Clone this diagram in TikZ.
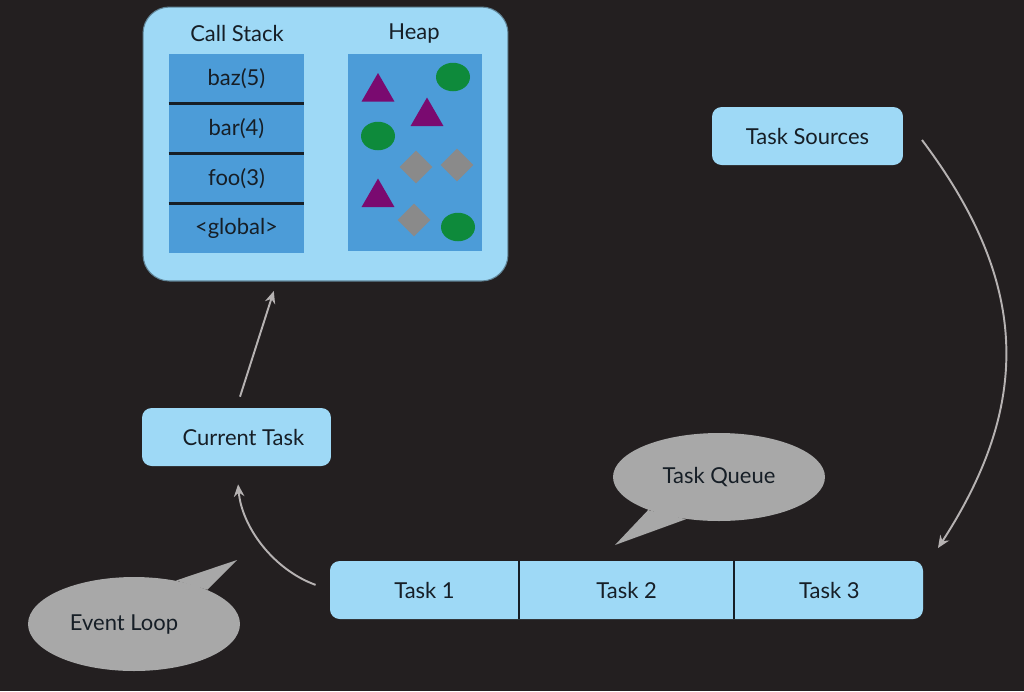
\documentclass[tikz,border=0pt]{standalone}
\usepackage{fontspec}
\setmainfont{Lato}
\usetikzlibrary{positioning,shapes.geometric,arrows.meta}
\definecolor{bg}{RGB}{35,31,32}
\definecolor{boxblue}{RGB}{158,217,246}
\definecolor{slotblue}{RGB}{76,156,216}
\definecolor{ink}{RGB}{22,30,38}
\definecolor{bubblegray}{RGB}{168,168,168}
\definecolor{arrowgray}{RGB}{182,178,178}
\definecolor{objpurple}{RGB}{122,10,112}
\definecolor{objgreen}{RGB}{14,138,59}
\definecolor{objgray}{RGB}{138,138,138}
\tikzset{
  txt/.style={text=ink, font=\fontsize{12.5}{15}\selectfont},
  box/.style={txt, fill=boxblue, rounded corners=5.5pt, inner sep=0pt, minimum height=1.16cm},
  slot/.style={txt, fill=slotblue, inner sep=0pt, minimum width=2.7cm, minimum height=0.985cm},
  sepline/.style={draw=ink, line width=1.3pt},
  bubble/.style={txt, ellipse, fill=bubblegray, inner sep=0pt, minimum width=4.24cm},
  flow/.style={draw=arrowgray, line width=1.1pt, -{Stealth[length=7pt, width=6pt]}},
  tri/.style={regular polygon, regular polygon sides=3, fill=objpurple, inner sep=0pt, minimum size=0.76cm},
  blob/.style={ellipse, fill=objgreen, inner sep=0pt, minimum width=0.68cm, minimum height=0.57cm},
  gem/.style={diamond, fill=objgray, inner sep=0pt, minimum width=0.66cm, minimum height=0.66cm}
}
\begin{document}
\begin{tikzpicture}[x=0.02cm, y=-0.02cm]
  \fill [bg] (0,0) rectangle (1024,691);
  \useasboundingbox (0,0) rectangle (1024,691);
  % runtime: stack and heap
  \node [box, draw=boxblue!55!ink, line width=0.6pt, rounded corners=15pt,
         minimum width=7.3cm, minimum height=5.48cm] (mem) at (325.5,144) {};
  \node [txt] (stacklabel) at (237,33) {Call Stack};
  \node [txt] (heaplabel) at (414,34) {Heap};
  \node [slot] (baz) at (236.5,78.5) {baz(5)};
  \node [slot, below=0pt of baz] (bar) {bar(4)};
  \node [slot, below=0pt of bar] (foo) {foo(3)};
  \node [slot, below=0pt of foo] (glob) {<global>};
  \foreach \r in {baz,bar,foo}
    \draw [sepline] (\r.south west) -- (\r.south east);
  \node [slot, minimum width=2.68cm, minimum height=3.94cm] (heap) at (415,152.5) {};
  \foreach \n/\x/\y in {1/378/92, 2/427/116.5, 3/378/197.5}
    \node [tri] (tri\n) at (\x,\y) {};
  \foreach \n/\x/\y in {1/453/77, 2/378/136, 3/458/227}
    \node [blob] (blob\n) at (\x,\y) {};
  \foreach \n/\x/\y in {1/416/167, 2/457/165, 3/414/220}
    \node [gem] (gem\n) at (\x,\y) {};
  % tasks
  \node [box, minimum width=3.82cm] (src) at (807.5,136) {Task Sources};
  \node [box, minimum width=3.78cm] (cur) at (236.5,437) {\hspace*{0.28cm}Current Task};
  \fill [boxblue, rounded corners=5.5pt] (330,561) rectangle (923,619);
  \node [txt, minimum width=3.78cm, minimum height=1.16cm] (t1) at (424.5,590) {Task 1};
  \node [txt, minimum width=4.28cm, minimum height=1.16cm, right=0pt of t1] (t2) {Task 2};
  \node [txt, minimum width=3.8cm, minimum height=1.16cm, right=0pt of t2] (t3) {Task 3};
  \draw [sepline, line width=1pt] (t1.north east) -- (t1.south east);
  \draw [sepline, line width=1pt] (t2.north east) -- (t2.south east);
  % speech bubbles
  \node [bubble, minimum height=1.76cm] (tqb) at (719,477) {Task Queue};
  \coordinate (tqtip) at (615,545);
  \fill [bubblegray] (tqb.205) -- (tqtip) -- (tqb.232) -- cycle;
  \node [bubble, minimum height=1.88cm] (elb) at (134,624) {\hspace*{-0.4cm}Event Loop};
  \coordinate (eltip) at (237,560);
  \fill [bubblegray] (elb.46) -- (eltip) -- (elb.25) -- cycle;
  % arrows
  \coordinate (memin) at (277,281);
  \draw [flow, shorten <=0.23cm, shorten >=0.21cm] (cur.north) -- (memin);
  \coordinate (srcout) at (922,140);
  \coordinate (qin) at (938,548);
  \draw [flow] (srcout) to [out=-53, in=57, looseness=1.1] (qin);
  \draw [flow, shorten <=0.3cm, shorten >=0.36cm] (t1.west) to [out=160, in=-85] (cur.south);
\end{tikzpicture}
\end{document}
